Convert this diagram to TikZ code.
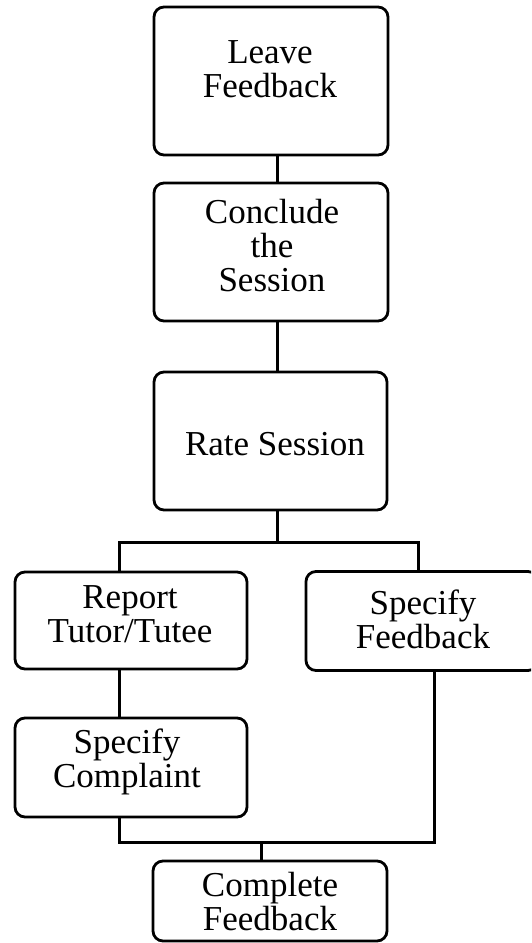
\documentclass[tikz,border=0pt]{standalone}
\usepackage{fontspec}
\setmainfont{Liberation Serif}
\usetikzlibrary{calc}
\begin{document}
\begin{tikzpicture}[x=1pt, y=-1pt,
  stepbox/.style={draw, rounded corners=10pt, line width=2.8pt,
    inner sep=0pt, outer sep=0pt},
  steptext/.style={align=center, inner sep=0pt,
    font=\fontsize{35}{34}\selectfont},
  link/.style={draw, line width=3pt}]
% page frame
\fill[white] (0,0) rectangle (531,943);
\useasboundingbox (0,0) rectangle (531,943);
\clip (0,0) rectangle (531,943);

% boxes
\node[stepbox, minimum width=234pt, minimum height=148pt] (leave)     at (271,81)    {};
\node[stepbox, minimum width=234pt, minimum height=138pt] (conclude)  at (271,252)   {};
\node[stepbox, minimum width=233pt, minimum height=138pt] (rate)      at (270.5,441) {};
\node[stepbox, minimum width=232pt, minimum height=97pt]  (report)    at (131,620.5) {};
\node[stepbox, minimum width=232pt, minimum height=99pt]  (specfb)    at (422,621)   {};
\node[stepbox, minimum width=232pt, minimum height=99pt]  (complaint) at (131,767.5) {};
\node[stepbox, minimum width=234pt, minimum height=80pt]  (complete)  at (270,901)   {};

% labels
\node[steptext] (leave-t)     at (270,69)   {Leave\\Feedback};
\node[steptext] (conclude-t)  at (272,246)  {Conclude\\the\\Session};
\node[steptext] (rate-t)      at (275,444)  {Rate Session};
\node[steptext] (report-t)    at (130,614.5){Report\\Tutor/Tutee};
\node[steptext] (specfb-t)    at (423,619)  {Specify\\Feedback};
\node[steptext] (complaint-t) at (127,762)  {Specify\\Complaint};
\node[steptext] (complete-t)  at (270,902)  {Complete\\Feedback};

% connector columns and junctions
\coordinate (spine) at (277,0);
\coordinate (lx)    at (119,0);
\coordinate (rx)    at (418,0);
\coordinate (mx)    at (434,0);
\coordinate (split) at (277,542);
\coordinate (merge) at (261,842);

% connectors
\path[link] (leave.south -| spine) -- (conclude.north -| spine);
\path[link] (conclude.south -| spine) -- (rate.north -| spine);
\path[link] (rate.south -| spine) -- (split);
\path[link] (lx |- report.north) -- (lx |- split) -- (rx |- split) -- (rx |- specfb.north);
\path[link] (lx |- report.south) -- (lx |- complaint.north);
\path[link] (lx |- complaint.south) -- (lx |- merge) -- (mx |- merge) -- (mx |- specfb.south);
\path[link] (merge) -- (merge |- complete.north);
\end{tikzpicture}
\end{document}
